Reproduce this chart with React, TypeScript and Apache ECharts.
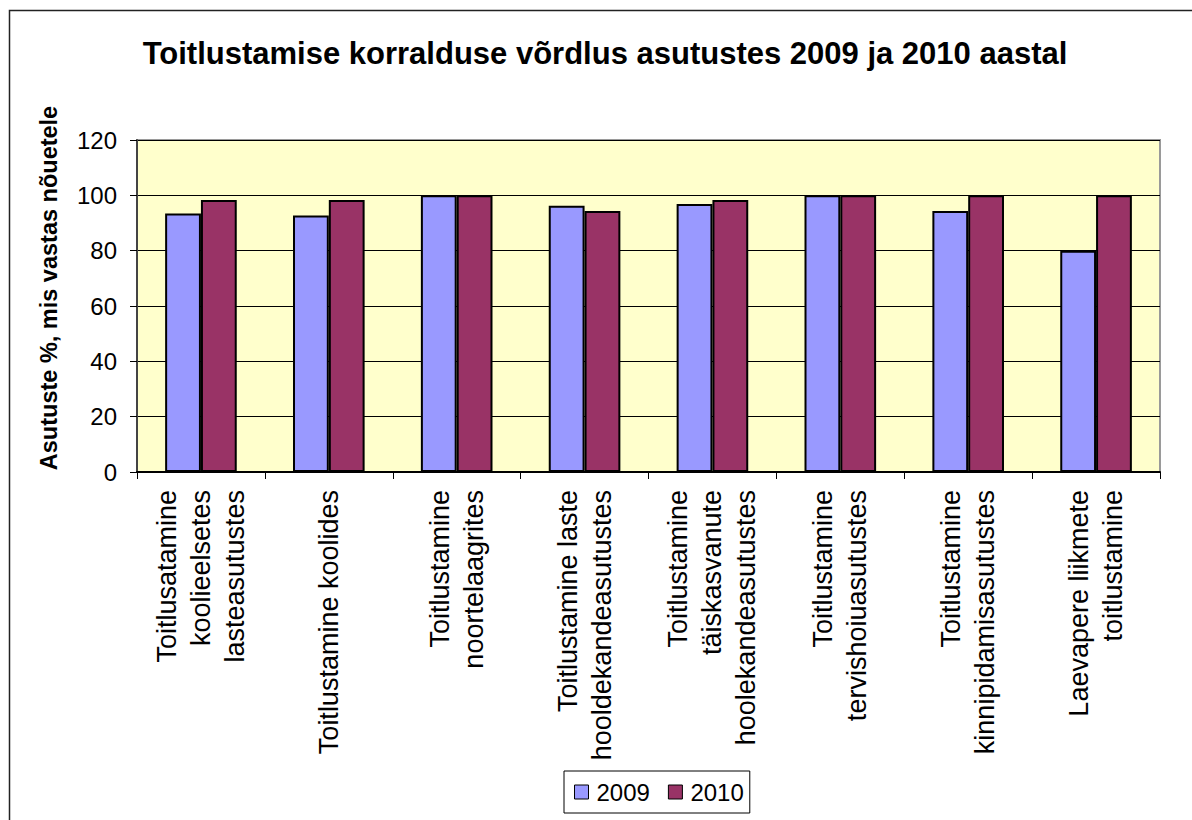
import React, { useEffect, useRef } from "react";
import * as echarts from "echarts";

const categories = [
  "Toitlusatamine\nkoolieelsetes\nlasteasutustes",
  "Toitlustamine koolides",
  "Toitlustamine\nnoortelaagrites",
  "Toitlustamine laste\nhooldekandeasutustes",
  "Toitlustamine\ntäiskasvanute\nhoolekandeasutustes",
  "Toitlustamine\ntervishoiuasutustes",
  "Toitlustamine\nkinnipidamisasutustes",
  "Laevapere liikmete\ntoitlustamine",
];
const values2009 = [93.4, 92.7, 100, 96.2, 96.9, 100, 94.3, 80];
const values2010 = [98.3, 98.3, 100, 94.3, 98.3, 100, 100, 100];
const seriesNames = ["2009", "2010"];

const FONT = '"Liberation Sans", Arial, sans-serif';
const XFS = 27;
const XLH = 34;

export default function App() {
  const ref = useRef<HTMLDivElement>(null);
  useEffect(() => {
    if (!ref.current) return;
    const chart = echarts.init(ref.current, null, { renderer: "svg" });
    chart.setOption({
      animation: false,
      backgroundColor: "#ffffff",
      textStyle: { fontFamily: FONT },
      title: {
        text: "Toitlustamise korralduse võrdlus asutustes 2009 ja 2010 aastal",
        left: 600,
        top: 33,
        textAlign: "center",
        textStyle: { fontFamily: FONT, fontSize: 31, fontWeight: "bold", color: "#000" },
      },
      legend: {
        left: 564,
        top: 771,
        orient: "horizontal",
        padding: [9, 6, 9, 10],
        itemGap: 18,
        itemWidth: 14,
        itemHeight: 14,
        borderColor: "#000",
        borderWidth: 1,
        icon: "rect",
        itemStyle: { borderColor: "#000", borderWidth: 1 },
        textStyle: { fontFamily: FONT, fontSize: 24, color: "#000", padding: [0, 0, 0, 3] },
        data: seriesNames,
      },
      grid: {
        left: 137,
        right: 32,
        top: 140,
        bottom: 348,
        show: true,
        backgroundColor: "#FFFFCC",
        borderColor: "#9a9a9a",
        borderWidth: 2,
      },
      xAxis: {
        type: "category",
        data: categories,
        axisLine: { show: true, lineStyle: { color: "#000", width: 2 } },
        axisTick: { show: true, length: 7, lineStyle: { color: "#000", width: 1 } },
        axisLabel: {
          interval: 0,
          rotate: 90,
          margin: 18,
          color: "#000",
          fontFamily: FONT,
          fontSize: XFS,
          lineHeight: XLH,
        },
      },
      yAxis: {
        type: "value",
        min: 0,
        max: 120,
        interval: 20,
        name: "Asutuste %, mis vastas nõuetele",
        nameLocation: "middle",
        nameRotate: 90,
        nameGap: 76,
        nameTextStyle: {
          fontFamily: FONT,
          fontSize: 23.5,
          fontWeight: "bold",
          color: "#000",
          padding: [0, 0, 0, 36],
        },
        axisLine: { show: true, lineStyle: { color: "#444", width: 2 } },
        axisTick: { show: true, length: 7, lineStyle: { color: "#000", width: 1 } },
        axisLabel: { margin: 20, color: "#000", fontFamily: FONT, fontSize: 24 },
        splitLine: { show: true, lineStyle: { color: "#000", width: 1 } },
      },
      series: [
        {
          name: seriesNames[0],
          type: "bar",
          data: values2009,
          barGap: "0%",
          barCategoryGap: "44%",
          itemStyle: { color: "#9999FF", borderColor: "#000", borderWidth: 2 },
        },
        {
          name: seriesNames[1],
          type: "bar",
          data: values2010,
          barGap: "0%",
          barCategoryGap: "44%",
          itemStyle: { color: "#993366", borderColor: "#000", borderWidth: 2 },
        },
      ],
      graphic: [
        {
          type: "rect",
          left: 7,
          top: 8,
          shape: { x: 0, y: 0, width: 1300, height: 900 },
          style: { fill: "none", stroke: "#222", lineWidth: 1.5 },
          silent: true,
        },
      ],
    });
    return () => chart.dispose();
  }, []);
  return (
    <div
      ref={ref}
      style={{ position: "fixed", left: 0, top: 0, width: 1192, height: 820 }}
    />
  );
}
